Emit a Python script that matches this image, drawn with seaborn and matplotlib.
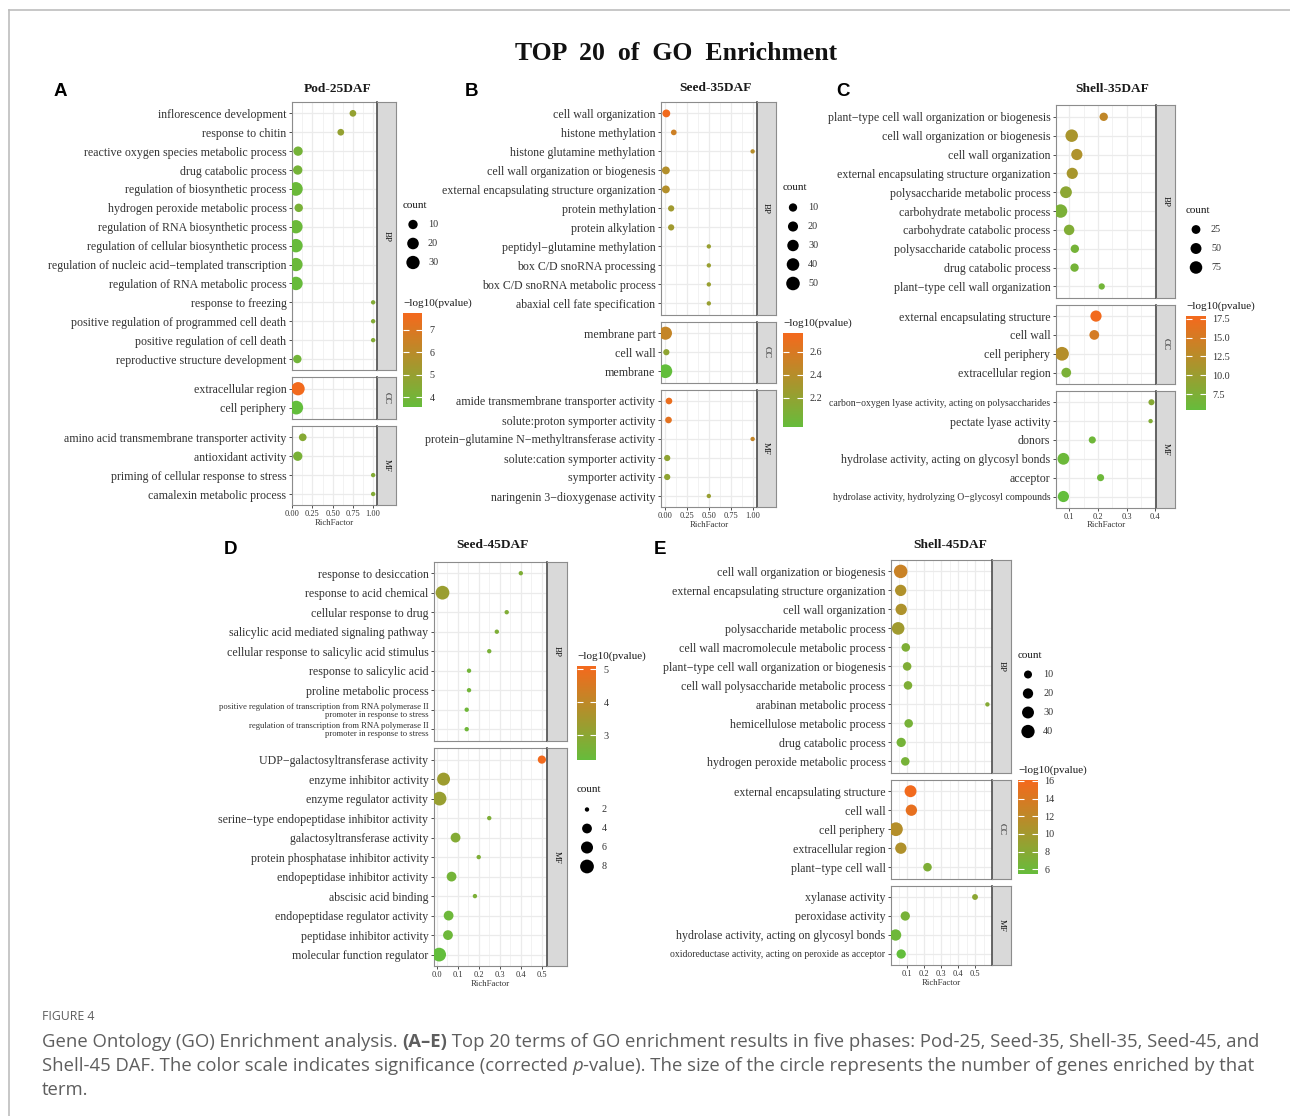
import numpy as np
import pandas as pd
import seaborn as sns
import matplotlib.pyplot as plt
from matplotlib.colors import LinearSegmentedColormap, Normalize
from matplotlib.cm import ScalarMappable
from matplotlib.lines import Line2D

# ---------------- data ----------------
# A  Pod-25DAF
pod25_terms = [
    "inflorescence development", "response to chitin",
    "reactive oxygen species metabolic process", "drug catabolic process",
    "regulation of biosynthetic process", "hydrogen peroxide metabolic process",
    "regulation of RNA biosynthetic process", "regulation of cellular biosynthetic process",
    "regulation of nucleic acid−templated transcription", "regulation of RNA metabolic process",
    "response to freezing", "positive regulation of programmed cell death",
    "positive regulation of cell death", "reproductive structure development",
    "extracellular region", "cell periphery",
    "amino acid transmembrane transporter activity", "antioxidant activity",
    "priming of cellular response to stress", "camalexin metabolic process",
]
pod25_ont = ["BP"] * 14 + ["CC"] * 2 + ["MF"] * 4
pod25_rich = [0.75, 0.60, 0.072, 0.068, 0.045, 0.08, 0.046, 0.046, 0.046, 0.046,
              1.0, 1.0, 1.0, 0.063, 0.072, 0.05, 0.13, 0.068, 1.0, 1.0]
pod25_count = [3, 3, 10, 10, 33, 7, 30, 31, 30, 31, 1, 1, 1, 7, 30, 33, 5, 10, 1, 1]
pod25_logp = [5.0, 5.0, 4.1, 4.1, 3.8, 4.2, 3.8, 3.7, 3.8, 3.7,
              4.5, 4.5, 4.5, 4.0, 7.75, 3.56, 4.6, 4.2, 4.5, 4.5]

# B  Seed-35DAF
seed35_terms = [
    "cell wall organization", "histone methylation", "histone glutamine methylation",
    "cell wall organization or biogenesis", "external encapsulating structure organization",
    "protein methylation", "protein alkylation", "peptidyl−glutamine methylation",
    "box C/D snoRNA processing", "box C/D snoRNA metabolic process",
    "abaxial cell fate specification",
    "membrane part", "cell wall", "membrane",
    "amide transmembrane transporter activity", "solute:proton symporter activity",
    "protein−glutamine N−methyltransferase activity", "solute:cation symporter activity",
    "symporter activity", "naringenin 3−dioxygenase activity",
]
seed35_ont = ["BP"] * 11 + ["CC"] * 3 + ["MF"] * 6
seed35_rich = [0.015, 0.10, 1.0, 0.01, 0.01, 0.07, 0.07, 0.5, 0.5, 0.5, 0.5,
               0.005, 0.015, 0.004, 0.045, 0.04, 1.0, 0.025, 0.025, 0.5]
seed35_count = [8, 2, 1, 8, 8, 3, 3, 1, 1, 1, 1, 45, 3, 52, 4, 4, 1, 3, 3, 1]
seed35_logp = [2.76, 2.55, 2.42, 2.4, 2.4, 2.3, 2.3, 2.25, 2.25, 2.25, 2.25,
               2.5, 2.2, 1.95, 2.72, 2.68, 2.5, 2.2, 2.2, 2.25]

# C  Shell-35DAF
shell35_terms = [
    "plant−type cell wall organization or biogenesis", "cell wall organization or biogenesis",
    "cell wall organization", "external encapsulating structure organization",
    "polysaccharide metabolic process", "carbohydrate metabolic process",
    "carbohydrate catabolic process", "polysaccharide catabolic process",
    "drug catabolic process", "plant−type cell wall organization",
    "external encapsulating structure", "cell wall", "cell periphery", "extracellular region",
    "carbon−oxygen lyase activity, acting on polysaccharides", "pectate lyase activity",
    "donors", "hydrolase activity, acting on glycosyl bonds", "acceptor",
    "hydrolase activity, hydrolyzing O−glycosyl compounds",
]
shell35_ont = ["BP"] * 10 + ["CC"] * 4 + ["MF"] * 6
shell35_rich = [0.22, 0.108, 0.126, 0.11, 0.088, 0.069, 0.099, 0.119, 0.118, 0.213,
                0.193, 0.187, 0.074, 0.089, 0.387, 0.384, 0.18, 0.079, 0.209, 0.079]
shell35_count = [21, 75, 54, 54, 63, 92, 44, 21, 21, 8, 54, 35, 98, 35, 7, 4, 12, 63, 12, 54]
shell35_logp = [13.5, 11.5, 12.0, 11.3, 9.0, 7.5, 8.0, 7.0, 7.0, 6.8,
                17.85, 15.2, 12.5, 7.5, 8.5, 8.0, 6.5, 6.2, 6.3, 5.4]

# D  Seed-45DAF
seed45_terms = [
    "response to desiccation", "response to acid chemical", "cellular response to drug",
    "salicylic acid mediated signaling pathway", "cellular response to salicylic acid stimulus",
    "response to salicylic acid", "proline metabolic process",
    "positive regulation of transcription from RNA polymerase II\npromoter in response to stress",
    "regulation of transcription from RNA polymerase II\npromoter in response to stress",
    "UDP−galactosyltransferase activity", "enzyme inhibitor activity",
    "enzyme regulator activity", "serine−type endopeptidase inhibitor activity",
    "galactosyltransferase activity", "protein phosphatase inhibitor activity",
    "endopeptidase inhibitor activity", "abscisic acid binding",
    "endopeptidase regulator activity", "peptidase inhibitor activity",
    "molecular function regulator",
]
seed45_ont = ["BP"] * 9 + ["MF"] * 11
seed45_rich = [0.40, 0.028, 0.333, 0.286, 0.25, 0.154, 0.154, 0.143, 0.143,
               0.5, 0.033, 0.014, 0.25, 0.09, 0.2, 0.071, 0.182, 0.057, 0.054, 0.012]
seed45_count = [2, 8, 2, 2, 2, 2, 2, 2, 2, 3, 7, 8, 2, 4, 2, 4, 2, 4, 4, 8]
seed45_logp = [2.8, 3.35, 2.85, 2.8, 2.7, 2.55, 2.55, 2.5, 2.5,
               5.1, 3.4, 3.3, 2.8, 2.9, 2.8, 2.6, 2.75, 2.45, 2.45, 2.25]

# E  Shell-45DAF
shell45_terms = [
    "cell wall organization or biogenesis", "external encapsulating structure organization",
    "cell wall organization", "polysaccharide metabolic process",
    "cell wall macromolecule metabolic process", "plant−type cell wall organization or biogenesis",
    "cell wall polysaccharide metabolic process", "arabinan metabolic process",
    "hemicellulose metabolic process", "drug catabolic process",
    "hydrogen peroxide metabolic process",
    "external encapsulating structure", "cell wall", "cell periphery",
    "extracellular region", "plant−type cell wall",
    "xylanase activity", "peroxidase activity",
    "hydrolase activity, acting on glycosyl bonds",
    "oxidoreductase activity, acting on peroxide as acceptor",
]
shell45_ont = ["BP"] * 11 + ["CC"] * 5 + ["MF"] * 4
shell45_rich = [0.062, 0.062, 0.065, 0.047, 0.092, 0.1, 0.105, 0.573, 0.109, 0.065, 0.089,
                0.12, 0.125, 0.034, 0.063, 0.22, 0.5, 0.089, 0.032, 0.065]
shell45_count = [42, 26, 26, 35, 12, 12, 12, 4, 12, 15, 12, 30, 26, 44, 26, 12, 5, 15, 26, 15]
shell45_logp = [13.0, 11.2, 11.0, 10.0, 7.5, 7.6, 7.5, 8.0, 7.0, 6.8, 7.0,
                16.1, 15.3, 11.5, 11.2, 7.5, 8.5, 7.0, 6.3, 5.47]

# ---------------- styling / layout ----------------
W, H = 1290, 1116
SERIF = ["Liberation Serif", "DejaVu Serif"]
SANS = ["Open Sans", "DejaVu Sans"]
plt.rcParams["font.family"] = SERIF
cmap = LinearSegmentedColormap.from_list("go", ["#63BE3C", "#F26A1D"])
GRID = "#EBEBEB"
EDGE = "#8C8C8C"
TXT = "#333333"

small_labels = {
    "carbon−oxygen lyase activity, acting on polysaccharides": 7.0,
    "hydrolase activity, hydrolyzing O−glycosyl compounds": 7.0,
    "oxidoreductase activity, acting on peroxide as acceptor": 7.0,
    "positive regulation of transcription from RNA polymerase II\npromoter in response to stress": 6.2,
    "regulation of transcription from RNA polymerase II\npromoter in response to stress": 6.2,
}

fig = plt.figure(figsize=(W / 100, H / 100), dpi=100)


def fx(x):
    return x / W


def fy(y):
    return 1 - y / H


def px_axes(left, top, w, h):
    return fig.add_axes([left / W, 1 - (top + h) / H, w / W, h / H])


def dot_area(v, lo, hi):
    t = np.clip((np.asarray(v, float) - lo) / (hi - lo), 0, 1)
    d = 1.35 * (1 + 5 * np.sqrt(t)) + 1.8
    return d ** 2


def count_legend(x, y, breaks, lo, hi):
    fig.text(fx(x), fy(y), "count", fontsize=8, va="center", ha="left", color="#1A1A1A")
    n = len(breaks)
    lax = px_axes(x, y + 10, 45, 19 * n)
    lax.axis("off")
    lax.set_xlim(0, 45)
    lax.set_ylim(n - 0.5, -0.5)
    lax.scatter([10] * n, range(n), s=dot_area(breaks, lo, hi), c="black", linewidths=0)
    for i, b in enumerate(breaks):
        lax.text(25, i, str(b), fontsize=7.3, va="center", ha="left", color=TXT)


def color_legend(x, y, ticks, fmt, lo, hi):
    fig.text(fx(x), fy(y), "−log10(pvalue)", fontsize=8, va="center", ha="left", color="#1A1A1A")
    cax = px_axes(x, y + 10, 19.5, 94)
    cb = fig.colorbar(ScalarMappable(norm=Normalize(lo, hi), cmap=cmap), cax=cax)
    cb.outline.set_visible(False)
    cb.solids.set_edgecolor("face")
    cb.set_ticks(ticks)
    cb.ax.set_yticklabels([fmt % t for t in ticks])
    cax.tick_params(axis="y", direction="in", length=4, width=0.8, color="white",
                    labelsize=7.3, labelcolor=TXT, pad=5, left=True, right=True, labelleft=False)


def draw_panel(df, lay):
    left, right, top, row = lay["left"], lay["right"], lay["top"], lay["row"]
    c_lo, c_hi = df["count"].min(), df["count"].max()
    p_lo, p_hi = df["logp"].min(), df["logp"].max()
    span = df["rich"].max() - df["rich"].min()
    xlim = (df["rich"].min() - 0.05 * span, df["rich"].max() + 0.05 * span)
    size_map = {v: float(dot_area(v, c_lo, c_hi)) for v in df["count"].unique()}
    xt = lay["xticks"]
    step = xt[1] - xt[0]
    minor = [v + step / 2 for v in [xt[0] - step] + list(xt)]

    onts = list(dict.fromkeys(df["ont"]))
    for k, ont in enumerate(onts):
        sub = df[df["ont"] == ont].reset_index(drop=True)
        n = len(sub)
        h = (n + 0.2) * row
        ax = px_axes(left, top, right - left, h)
        sns.scatterplot(data=sub, x="rich", y="term", hue="logp", size="count",
                        palette=cmap, hue_norm=(p_lo, p_hi), sizes=size_map,
                        linewidth=0, legend=False, ax=ax, zorder=3)
        ax.set_yticks(range(n), sub["term"].tolist())
        ax.tick_params(axis="y", length=2.5, width=0.6, color=TXT, pad=1.5,
                       labelsize=8.6, labelcolor=TXT)
        for lab in ax.get_yticklabels():
            if lab.get_text() in small_labels:
                lab.set_fontsize(small_labels[lab.get_text()])
                lab.set_linespacing(1.0)
        ax.set_ylim(n - 0.4, -0.6)
        ax.set_xlim(*xlim)
        ax.set_xticks(xt)
        ax.set_xticks([m for m in minor if xlim[0] < m < xlim[1]], minor=True)
        ax.grid(True, which="major", color=GRID, lw=0.9)
        ax.grid(True, which="minor", axis="x", color=GRID, lw=0.45)
        ax.set_axisbelow(True)
        ax.set_xlabel("")
        ax.set_ylabel("")
        for s in ax.spines.values():
            s.set_color(EDGE)
            s.set_linewidth(0.8)
        if k == len(onts) - 1:
            ax.set_xticklabels([lay["xfmt"] % v for v in xt])
            ax.tick_params(axis="x", which="major", length=2, width=0.6, color=TXT,
                           pad=1.5, labelsize=6, labelcolor=TXT)
            ax.tick_params(axis="x", which="minor", length=0)
            ax.set_xlabel("RichFactor", fontsize=6.3, color=TXT, labelpad=0.5)
        else:
            ax.tick_params(axis="x", which="both", length=0, labelbottom=False)
        st = px_axes(right, top, lay["strip"], h)
        st.set_facecolor("#D9D9D9")
        st.set_xticks([])
        st.set_yticks([])
        for s in st.spines.values():
            s.set_color(EDGE)
            s.set_linewidth(0.8)
        st.spines["left"].set_color("#4D4D4D")
        st.spines["left"].set_linewidth(1.2)
        st.text(0.5, 0.5, ont, rotation=-90, ha="center", va="center",
                fontsize=6.5, color="#1A1A1A", transform=st.transAxes)
        top += h + 7

    fig.text(fx(lay["title"][0]), fy(lay["title"][1]), lay["name"], fontsize=9.6,
             weight="bold", ha="center", va="center", color="#1A1A1A")
    fig.text(fx(lay["letter"][0]), fy(lay["letter"][1]), lay["tag"], fontsize=13.5,
             weight="bold", ha="center", va="center", family=["Liberation Sans", "DejaVu Sans"])
    sx, sy, sb = lay["size_leg"]
    count_legend(sx, sy, sb, c_lo, c_hi)
    cx, cy, ct, cf = lay["color_leg"]
    color_legend(cx, cy, ct, cf, p_lo, p_hi)


def frame(terms, ont, rich, count, logp):
    return pd.DataFrame({"term": terms, "ont": ont, "rich": rich, "count": count, "logp": logp})


panels = [
    (frame(pod25_terms, pod25_ont, pod25_rich, pod25_count, pod25_logp),
     dict(name="Pod-25DAF", tag="A", left=292, right=377, top=102, row=18.9, strip=19,
          title=(338, 89), letter=(60, 92), xticks=[0, 0.25, 0.5, 0.75, 1.0], xfmt="%.2f",
          size_leg=(403, 205, [10, 20, 30]), color_leg=(403, 303, [4, 5, 6, 7], "%d"))),
    (frame(seed35_terms, seed35_ont, seed35_rich, seed35_count, seed35_logp),
     dict(name="Seed-35DAF", tag="B", left=661, right=757, top=102, row=19.0, strip=18.5,
          title=(716, 88), letter=(472, 92), xticks=[0, 0.25, 0.5, 0.75, 1.0], xfmt="%.2f",
          size_leg=(783, 188, [10, 20, 30, 40, 50]), color_leg=(783, 323, [2.2, 2.4, 2.6], "%.1f"))),
    (frame(shell35_terms, shell35_ont, shell35_rich, shell35_count, shell35_logp),
     dict(name="Shell-35DAF", tag="C", left=1056, right=1156, top=105.5, row=18.85, strip=18.5,
          title=(1112, 89), letter=(843, 92), xticks=[0.1, 0.2, 0.3, 0.4], xfmt="%.1f",
          size_leg=(1186, 210, [25, 50, 75]),
          color_leg=(1186, 306, [7.5, 10, 12.5, 15, 17.5], "%.1f"))),
    (frame(seed45_terms, seed45_ont, seed45_rich, seed45_count, seed45_logp),
     dict(name="Seed-45DAF", tag="D", left=434, right=547, top=561.5, row=19.5, strip=19.5,
          title=(492, 545), letter=(230, 550), xticks=[0, 0.1, 0.2, 0.3, 0.4, 0.5], xfmt="%.1f",
          size_leg=(577, 790, [2, 4, 6, 8]), color_leg=(577, 656, [3, 4, 5], "%d"))),
    (frame(shell45_terms, shell45_ont, shell45_rich, shell45_count, shell45_logp),
     dict(name="Shell-45DAF", tag="E", left=891, right=992, top=560, row=19.0, strip=18.5,
          title=(950, 545), letter=(660, 550), xticks=[0.1, 0.2, 0.3, 0.4, 0.5], xfmt="%.1f",
          size_leg=(1018, 655, [10, 20, 30, 40]),
          color_leg=(1018, 770, [6, 8, 10, 12, 14, 16], "%d"))),
]

for df, lay in panels:
    draw_panel(df, lay)

fig.text(fx(676), fy(54), "TOP  20  of  GO  Enrichment", fontsize=18.5, weight="bold",
         ha="center", va="center", color="#111111")

# frame around the figure image
fig.add_artist(Line2D([fx(9), fx(1290)], [fy(10), fy(10)], color="#BDBDBD", lw=1.2))
fig.add_artist(Line2D([fx(9), fx(9)], [fy(10), fy(1116)], color="#BDBDBD", lw=1.2))

# caption
renderer = fig.canvas.get_renderer()


def rich_line(x, y, parts, size=13.3, color="#5E5E5E"):
    for txt, kw in parts:
        t = fig.text(fx(x), fy(y), txt, fontsize=size, color=color, va="center",
                     ha="left", family=SANS, **kw)
        x += t.get_window_extent(renderer=renderer).width


fig.text(fx(42), fy(1017), "FIGURE 4", fontsize=8.8, color="#5E5E5E", va="center",
         ha="left", family=SANS)
rich_line(42, 1042, [("Gene Ontology (GO) Enrichment analysis. ", {}),
                     ("(A–E)", {"weight": "bold"}),
                     (" Top 20 terms of GO enrichment results in five phases: Pod-25, Seed-35, "
                      "Shell-35, Seed-45, and", {})])
rich_line(42, 1066, [("Shell-45 DAF. The color scale indicates significance (corrected ", {}),
                     ("p", {"style": "italic"}),
                     ("-value). The size of the circle represents the number of genes enriched "
                      "by that", {})])
rich_line(42, 1090, [("term.", {})])

fig.savefig("out.png", dpi=100)
